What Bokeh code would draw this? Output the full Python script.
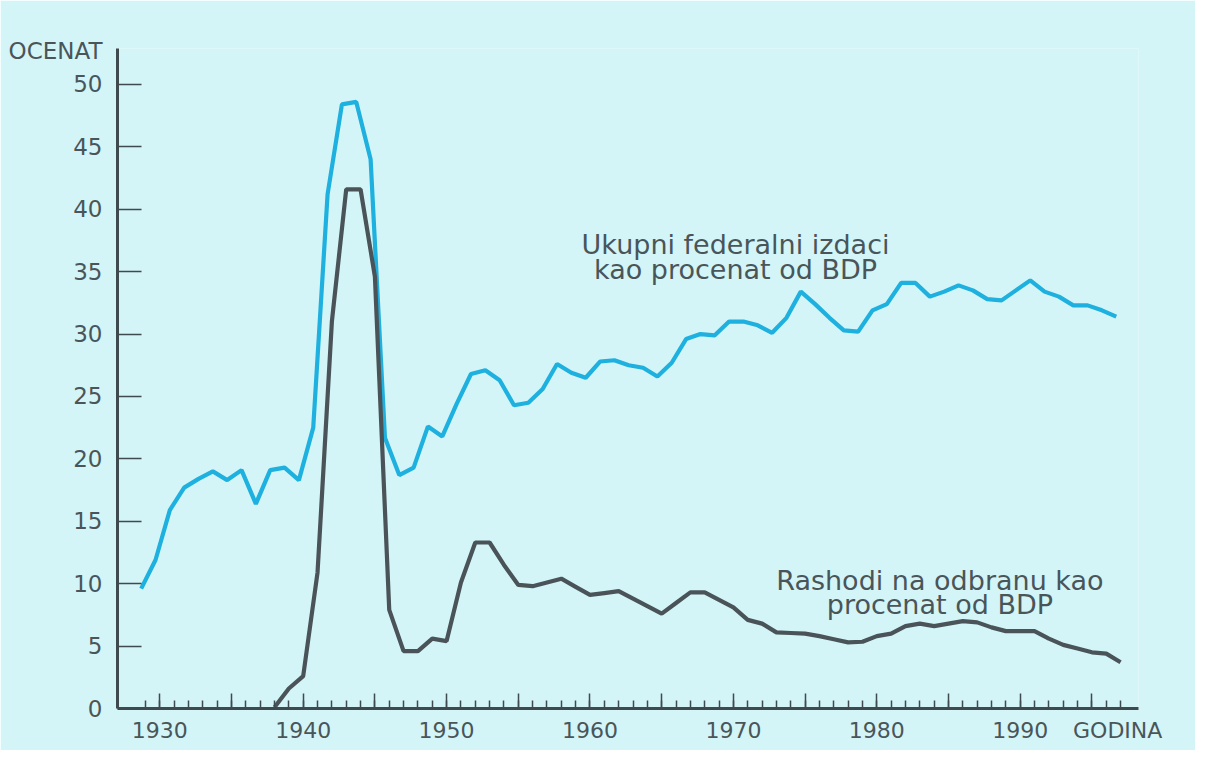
from bokeh.plotting import figure
from bokeh.models import ColumnDataSource, FixedTicker, Label, Range1d, LinearAxis
from bokeh.transform import dodge
from bokeh.embed import file_html
from bokeh.resources import INLINE

# ---- data ----
years_total = list(range(1929, 1998))
total_pct = [9.6, 11.9, 15.9, 17.7, 18.4, 19.0, 18.3, 19.1, 16.4, 19.1,
             19.3, 18.3, 22.5, 41.2, 48.4, 48.6, 44.0, 21.7, 18.7, 19.3,
             22.6, 21.8, 24.4, 26.8, 27.1, 26.3, 24.3, 24.5, 25.6, 27.6,
             26.9, 26.5, 27.8, 27.9, 27.5, 27.3, 26.6, 27.7, 29.6, 30.0,
             29.9, 31.0, 31.0, 30.7, 30.1, 31.3, 33.4, 32.4, 31.3, 30.3,
             30.2, 31.9, 32.4, 34.1, 34.1, 33.0, 33.4, 33.9, 33.5, 32.8,
             32.7, 33.5, 34.3, 33.4, 33.0, 32.3, 32.3, 31.9, 31.4]

years_defense = list(range(1938, 1998))
defense_pct = [0.1, 1.6, 2.6, 10.9, 31.0, 41.6, 41.6, 34.6, 7.9, 4.6,
               4.6, 5.6, 5.4, 10.1, 13.3, 13.3, 11.5, 9.9, 9.8, 10.1,
               10.4, 9.75, 9.1, 9.25, 9.4, 8.8, 8.2, 7.6, 8.45, 9.3,
               9.3, 8.7, 8.1, 7.1, 6.8, 6.1, 6.05, 6.0, 5.8, 5.55,
               5.3, 5.35, 5.8, 6.0, 6.6, 6.8, 6.6, 6.8, 7.0, 6.9,
               6.5, 6.2, 6.2, 6.2, 5.6, 5.1, 4.8, 4.5, 4.4, 3.7]

y_ticks = [0, 5, 10, 15, 20, 25, 30, 35, 40, 45, 50]
x_major_ticks = [1930, 1935, 1940, 1945, 1950, 1955, 1960, 1965, 1970, 1975, 1980, 1985, 1990, 1995]
x_labeled_ticks = [1930, 1940, 1950, 1960, 1970, 1980, 1990]
x_minor_ticks = list(range(1929, 1998))

label_total = ["Ukupni federalni izdaci", "kao procenat od BDP"]
label_defense = ["Rashodi na odbranu kao", "procenat od BDP"]
y_title = "OCENAT"
x_title = "GODINA"

# ---- positions / styles ----
Y_TITLE_AT = 52.7      # y position of the "OCENAT" caption
X_TITLE_AT = 1996.8    # x position of the "GODINA" caption
BG = "#d3f5f8"
AX = "#3f4a4f"
TXT = "#4a5559"
CYAN = "#1eb0de"
DARK = "#4a5458"
FONT = "DejaVu Sans"

p = figure(width=1195, height=750,
           x_range=Range1d(1927.05, 1998.25), y_range=Range1d(0, 52.88),
           output_backend="svg", toolbar_location=None,
           min_border_left=117, min_border_right=57,
           min_border_top=48, min_border_bottom=42,
           background_fill_color=BG, border_fill_color=BG,
           outline_line_color=None)
p.xgrid.visible = False
p.ygrid.visible = False

def tick_only_axis(ax, ticks, length, line):
    ax.ticker = FixedTicker(ticks=[], minor_ticks=ticks)
    ax.axis_line_width = 3
    ax.axis_line_color = AX if line else None
    ax.major_tick_line_color = None
    ax.minor_tick_in = length
    ax.minor_tick_out = 0
    ax.minor_tick_line_width = 1.5
    ax.minor_tick_line_color = AX
    ax.major_label_standoff = 0

# y axis: line + ticks, then labels on a second axis
tick_only_axis(p.yaxis[0], y_ticks, 24, True)
ylab = LinearAxis(ticker=FixedTicker(ticks=y_ticks + [Y_TITLE_AT]),
                  major_label_overrides={Y_TITLE_AT: y_title},
                  axis_line_color=None, major_tick_line_color=None,
                  minor_tick_line_color=None, major_tick_in=0, major_tick_out=0,
                  major_label_text_font=FONT, major_label_text_font_size="23px",
                  major_label_text_color=TXT, major_label_standoff=15)
p.add_layout(ylab, "left")

# x axis: line + yearly ticks, 5-year ticks, then labels
tick_only_axis(p.xaxis[0], x_minor_ticks, 8, True)
x5 = LinearAxis()
tick_only_axis(x5, x_major_ticks, 15, False)
p.add_layout(x5, "below")
xlab = LinearAxis(ticker=FixedTicker(ticks=x_labeled_ticks + [X_TITLE_AT]),
                  major_label_overrides={X_TITLE_AT: x_title},
                  axis_line_color=None, major_tick_line_color=None,
                  minor_tick_line_color=None, major_tick_in=0, major_tick_out=0,
                  major_label_text_font=FONT, major_label_text_font_size="22px",
                  major_label_text_color=TXT, major_label_standoff=9)
p.add_layout(xlab, "below")

src_total = ColumnDataSource(dict(year=years_total, pct=total_pct))
src_def = ColumnDataSource(dict(year=years_defense, pct=defense_pct))

p.line(x=dodge("year", -0.3, range=p.x_range), y="pct", source=src_total,
       line_color=CYAN, line_width=4.2)
p.line(x="year", y="pct", source=src_def, line_color=DARK, line_width=4.2)

def add_label(x, y, text, size):
    p.add_layout(Label(x=x, y=y, text=text, text_font=FONT, text_font_size=size,
                       text_color=TXT, text_align="center", text_baseline="middle"))

add_label(1970.15, 37.18, label_total[0], "27px")
add_label(1970.15, 35.18, label_total[1], "27px")
add_label(1984.4, 10.22, label_defense[0], "27px")
add_label(1984.4, 8.37, label_defense[1], "27px")

open("out.html", "w").write(file_html(p, INLINE))
